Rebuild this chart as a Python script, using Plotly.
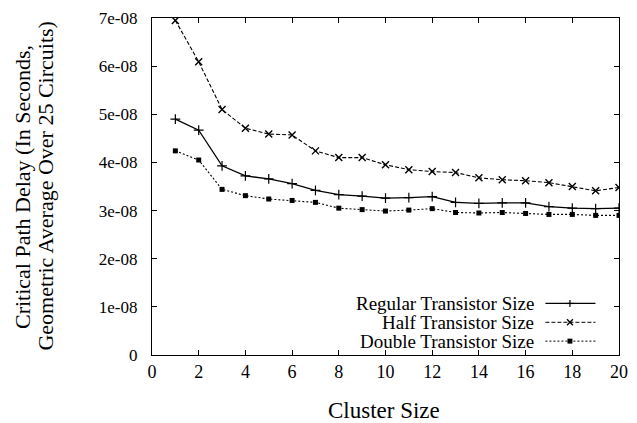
import plotly.graph_objects as go

cluster_size = list(range(1, 21))
regular = [4.90e-08, 4.67e-08, 3.93e-08, 3.72e-08, 3.66e-08, 3.56e-08, 3.42e-08, 3.33e-08, 3.30e-08, 3.26e-08,
           3.27e-08, 3.29e-08, 3.17e-08, 3.15e-08, 3.16e-08, 3.16e-08, 3.08e-08, 3.05e-08, 3.04e-08, 3.05e-08]
half = [6.95e-08, 6.09e-08, 5.10e-08, 4.71e-08, 4.59e-08, 4.57e-08, 4.24e-08, 4.10e-08, 4.10e-08, 3.95e-08,
        3.85e-08, 3.81e-08, 3.79e-08, 3.68e-08, 3.64e-08, 3.62e-08, 3.58e-08, 3.50e-08, 3.41e-08, 3.48e-08]
double = [4.24e-08, 4.05e-08, 3.44e-08, 3.31e-08, 3.24e-08, 3.21e-08, 3.17e-08, 3.05e-08, 3.02e-08, 2.99e-08,
          3.01e-08, 3.04e-08, 2.96e-08, 2.95e-08, 2.96e-08, 2.94e-08, 2.92e-08, 2.92e-08, 2.90e-08, 2.90e-08]

series_names = ["Regular Transistor Size", "Half Transistor Size", "Double Transistor Size"]
y_tickvals = [0, 1e-08, 2e-08, 3e-08, 4e-08, 5e-08, 6e-08, 7e-08]
y_ticktext = ["0", "1e-08", "2e-08", "3e-08", "4e-08", "5e-08", "6e-08", "7e-08"]
x_tickvals = list(range(0, 21, 2))
y_title_lines = ["Critical Path Delay (In Seconds,", "Geometric Average Over 25 Circuits)"]
x_title = "Cluster Size"

FONT = "Liberation Serif"

fig = go.Figure()
fig.add_trace(go.Scatter(x=cluster_size, y=regular, mode="lines+markers", name=series_names[0],
                         line=dict(color="black", width=1.3, dash="solid"),
                         marker=dict(symbol="cross-thin", size=7, line=dict(color="black", width=1.2))))
fig.add_trace(go.Scatter(x=cluster_size, y=half, mode="lines+markers", name=series_names[1],
                         line=dict(color="black", width=1.1, dash="4px,2px"),
                         marker=dict(symbol="x-thin", size=7, line=dict(color="black", width=1.4))))
fig.add_trace(go.Scatter(x=cluster_size, y=double, mode="lines+markers", name=series_names[2],
                         line=dict(color="black", width=1.1, dash="2px,2px"),
                         marker=dict(symbol="square", size=5, color="black")))


def px_to_paper(px, py):
    return (px - 152) / 476.0, (355 - py) / 340.0


rows_y = [303, 322, 341]
dashes = ["solid", "4px,2px", "2px,2px"]
shapes = []
annotations = []
for i, name in enumerate(series_names):
    py = rows_y[i]
    tx, ty = px_to_paper(543, py)
    annotations.append(dict(x=tx, y=ty, xref="paper", yref="paper", text=name, showarrow=False,
                            xanchor="right", yanchor="middle",
                            font=dict(family=FONT, size=19, color="black")))
    x0, y0 = px_to_paper(553, py)
    x1, _ = px_to_paper(604, py)
    shapes.append(dict(type="line", xref="paper", yref="paper", x0=x0, x1=x1, y0=y0, y1=y0,
                       line=dict(color="black", width=1.2 if i == 0 else 1.0, dash=dashes[i])))
    mx, my = 578, py
    if i == 0:
        a, b = px_to_paper(mx - 4, my); c, d = px_to_paper(mx + 4, my)
        shapes.append(dict(type="line", xref="paper", yref="paper", x0=a, x1=c, y0=b, y1=d,
                           line=dict(color="black", width=1.2)))
        a, b = px_to_paper(mx, my - 3.5); c, d = px_to_paper(mx, my + 3.5)
        shapes.append(dict(type="line", xref="paper", yref="paper", x0=a, x1=c, y0=b, y1=d,
                           line=dict(color="black", width=1.2)))
    elif i == 1:
        a, b = px_to_paper(mx - 3, my - 3); c, d = px_to_paper(mx + 3, my + 3)
        shapes.append(dict(type="line", xref="paper", yref="paper", x0=a, x1=c, y0=b, y1=d,
                           line=dict(color="black", width=1.4)))
        a, b = px_to_paper(mx - 3, my + 3); c, d = px_to_paper(mx + 3, my - 3)
        shapes.append(dict(type="line", xref="paper", yref="paper", x0=a, x1=c, y0=b, y1=d,
                           line=dict(color="black", width=1.4)))
    else:
        a, b = px_to_paper(mx - 2.5, my - 2.5); c, d = px_to_paper(mx + 2.5, my + 2.5)
        shapes.append(dict(type="rect", xref="paper", yref="paper", x0=a, x1=c, y0=b, y1=d,
                           line=dict(color="black", width=0), fillcolor="black"))

# y-axis title (two lines, rotated)
for line_text, cx in zip(y_title_lines, [20, 43]):
    ax, ay = px_to_paper(cx, 185)
    annotations.append(dict(x=ax, y=ay, xref="paper", yref="paper", text=line_text,
                            showarrow=False, textangle=-90, xanchor="center", yanchor="middle",
                            font=dict(family=FONT, size=22, color="black")))

# x-axis title
ax, ay = px_to_paper(388, 411)
annotations.append(dict(x=ax, y=ay, xref="paper", yref="paper", text=x_title, showarrow=False,
                        xanchor="center", yanchor="middle",
                        font=dict(family=FONT, size=23, color="black")))

fig.update_layout(
    width=637, height=423,
    margin=dict(l=152, r=9, t=15, b=68),
    paper_bgcolor="white", plot_bgcolor="white",
    showlegend=False,
    font=dict(family=FONT, size=17, color="black"),
    shapes=shapes, annotations=annotations,
    xaxis=dict(range=[0, 20], tickvals=x_tickvals, ticks="inside", ticklen=5, tickcolor="black",
               showline=True, linecolor="black", linewidth=1.3, mirror="ticks", showgrid=False,
               zeroline=False, tickfont=dict(family=FONT, size=18, color="black")),
    yaxis=dict(range=[0, 7e-08], tickvals=y_tickvals, ticktext=y_ticktext, ticks="inside", ticklen=5,
               tickcolor="black", showline=True, linecolor="black", linewidth=1.3, mirror="ticks",
               showgrid=False, zeroline=False, tickfont=dict(family=FONT, size=17, color="black"),
               ticklabelstandoff=10),
)

fig.write_html("out.html")
